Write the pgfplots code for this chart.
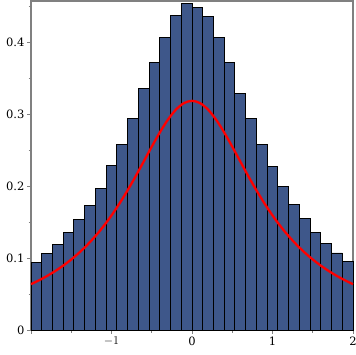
\documentclass[border=0pt]{standalone}
\usepackage{fontspec}
\setmainfont{DejaVu Serif}
\usepackage{pgfplots}
\pgfplotsset{compat=1.18}
\definecolor{barblue}{RGB}{62,87,138}
\definecolor{axgray}{RGB}{128,128,128}
\begin{document}
\begin{tikzpicture}
\begin{axis}[
  scale only axis,
  width=322pt, height=329pt,
  xmin=-2, xmax=2, ymin=0, ymax=0.457,
  axis line style={axgray, line width=1.4pt},
  tick style={axgray, line width=0.8pt},
  tick align=outside,
  xtick pos=bottom, ytick pos=left,
  xtick={-2,-1,0,1,2},
  xticklabels={,$-1$,0,1,2},
  minor xtick={-1.5,-0.5,0.5,1.5},
  ytick={0,0.1,0.2,0.3,0.4},
  yticklabels={0,0.1,0.2,0.3,0.4},
  minor ytick={0.05,0.15,0.25,0.35,0.45},
  major tick length=4pt, minor tick length=2.5pt,
  every tick label/.append style={font=\fontsize{11.5}{13}\selectfont, text=black},
  xticklabel style={yshift=1pt},
  yticklabel style={xshift=1pt},
  /pgf/number format/assume math mode=true,
  clip=false,
]
\addplot[ybar interval, fill=barblue, draw=black, line width=0.9pt] coordinates {
(-2.0000,0.094) (-1.8667,0.1065) (-1.7333,0.1185) (-1.6000,0.135) (-1.4667,0.153)
(-1.3333,0.1736) (-1.2000,0.197) (-1.0667,0.229) (-0.9333,0.258) (-0.8000,0.294)
(-0.6667,0.336) (-0.5333,0.371) (-0.4000,0.406) (-0.2667,0.437) (-0.1333,0.4537)
(0.0000,0.448) (0.1333,0.435) (0.2667,0.406) (0.4000,0.371) (0.5333,0.328)
(0.6667,0.294) (0.8000,0.258) (0.9333,0.227) (1.0667,0.199) (1.2000,0.175)
(1.3333,0.1546) (1.4667,0.1356) (1.6000,0.120) (1.7333,0.107) (1.8667,0.0958)
(2.0000,0.0958)
};
\addplot[red, line width=2.3pt, smooth] coordinates {
(-2.0,0.06366) (-1.9,0.06905) (-1.8,0.07507) (-1.7,0.08183) (-1.6,0.08941)
(-1.5,0.09794) (-1.4,0.10754) (-1.3,0.11833) (-1.2,0.13045) (-1.1,0.14403)
(-1.0,0.15915) (-0.9,0.17586) (-0.8,0.19409) (-0.7,0.21363) (-0.6,0.23405)
(-0.5,0.25465) (-0.4,0.27441) (-0.3,0.29203) (-0.2,0.30607) (-0.1,0.31516)
(0.0,0.31831)
(0.1,0.31516) (0.2,0.30607) (0.3,0.29203) (0.4,0.27441) (0.5,0.25465)
(0.6,0.23405) (0.7,0.21363) (0.8,0.19409) (0.9,0.17586) (1.0,0.15915)
(1.1,0.14403) (1.2,0.13045) (1.3,0.11833) (1.4,0.10754) (1.5,0.09794)
(1.6,0.08941) (1.7,0.08183) (1.8,0.07507) (1.9,0.06905) (2.0,0.06366)
};
\end{axis}
\pgfresetboundingbox
\path ([xshift=-31pt,yshift=-25pt]current axis.south west) rectangle ([xshift=2pt,yshift=1pt]current axis.north east);
\end{tikzpicture}
\end{document}
